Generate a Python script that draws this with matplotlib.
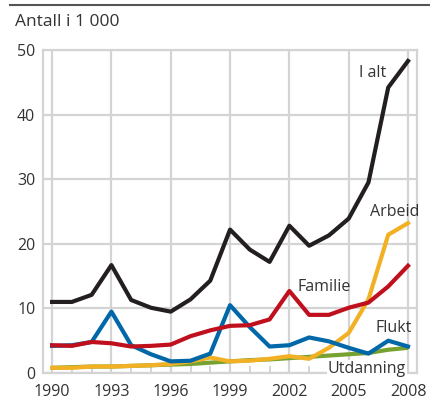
import matplotlib
matplotlib.use("Agg")
import matplotlib.pyplot as plt
from matplotlib.lines import Line2D

plt.rcParams['font.family'] = ['Open Sans', 'DejaVu Sans']

years = list(range(1990, 2009))

i_alt = [11.0, 11.0, 12.1, 16.7, 11.3, 10.1, 9.5, 11.4, 14.3, 22.2,
         19.1, 17.2, 22.8, 19.7, 21.3, 23.9, 29.5, 44.2, 48.3]
arbeid = [0.8, 0.8, 1.0, 1.0, 1.1, 1.2, 1.4, 1.8, 2.4, 1.8,
          1.9, 2.2, 2.6, 2.2, 3.9, 6.2, 11.4, 21.4, 23.2]
familie = [4.3, 4.2, 4.8, 4.6, 4.1, 4.2, 4.4, 5.7, 6.6, 7.3,
           7.4, 8.3, 12.7, 9.0, 9.0, 10.1, 10.9, 13.4, 16.6]
flukt = [4.2, 4.3, 4.8, 9.5, 4.3, 2.9, 1.8, 1.9, 3.0, 10.5,
         7.1, 4.1, 4.3, 5.5, 4.9, 3.9, 3.0, 5.0, 4.1]
utdanning = [0.8, 0.9, 1.0, 1.0, 1.1, 1.2, 1.3, 1.4, 1.6, 1.8,
             2.0, 2.1, 2.3, 2.5, 2.7, 2.9, 3.1, 3.6, 3.9]

xticks = [1990, 1993, 1996, 1999, 2002, 2005, 2008]
yticks = [0, 10, 20, 30, 40, 50]

grid_col = '#d4d4d4'
text_col = '#333333'

fig = plt.figure(figsize=(4.3, 4.0), dpi=100)
ax = fig.add_axes([0.100, 0.0675, 0.870, 0.8075])

# green under orange, blue/red over, black on top
ax.plot(years, utdanning, color='#78a22f', lw=3, solid_capstyle='butt', zorder=3)
ax.plot(years, arbeid, color='#f2b124', lw=3, zorder=4)
ax.plot(years, flukt, color='#0068a8', lw=3, zorder=4)
ax.plot(years, familie, color='#c0101e', lw=3, zorder=5)
ax.plot(years, i_alt, color='#231f20', lw=3, zorder=6)

ax.set_xlim(1989.54, 2008.46)
ax.set_ylim(0, 50)
ax.set_xticks(xticks)
ax.set_xticks(years, minor=True)
ax.set_yticks(yticks)
ax.grid(True, which='major', color=grid_col, lw=1.6, zorder=0)
ax.tick_params(which='major', length=0, labelsize=11.5, colors=text_col)
ax.tick_params(axis='x', which='major', pad=8)
ax.tick_params(axis='y', which='major', pad=5.5)
ax.tick_params(axis='x', which='minor', direction='in', length=5, width=1.4, color=grid_col)
ax.tick_params(axis='y', which='minor', length=0)
for s in ax.spines.values():
    s.set_color(grid_col)
    s.set_linewidth(1.6)

lab = dict(fontsize=11.5, color=text_col, zorder=10)
ax.text(2005.5, 46.4, 'I alt', ha='left', va='center', **lab)
ax.text(2006.1, 25.0, 'Arbeid', ha='left', va='center', **lab)
ax.text(2002.4, 13.3, 'Familie', ha='left', va='center', **lab)
ax.text(2006.35, 6.9, 'Flukt', ha='left', va='center', **lab)
ax.text(2003.95, 0.6, 'Utdanning', ha='left', va='center',
        bbox=dict(facecolor='white', edgecolor='none', pad=0.5), **lab)

fig.text(0.035, 0.945, 'Antall i 1 000', ha='left', va='center', fontsize=12.5, color=text_col)
fig.add_artist(Line2D([0.023, 1.0], [0.987, 0.987], color='#555555', lw=1.5))

fig.savefig('out.png', dpi=100)
